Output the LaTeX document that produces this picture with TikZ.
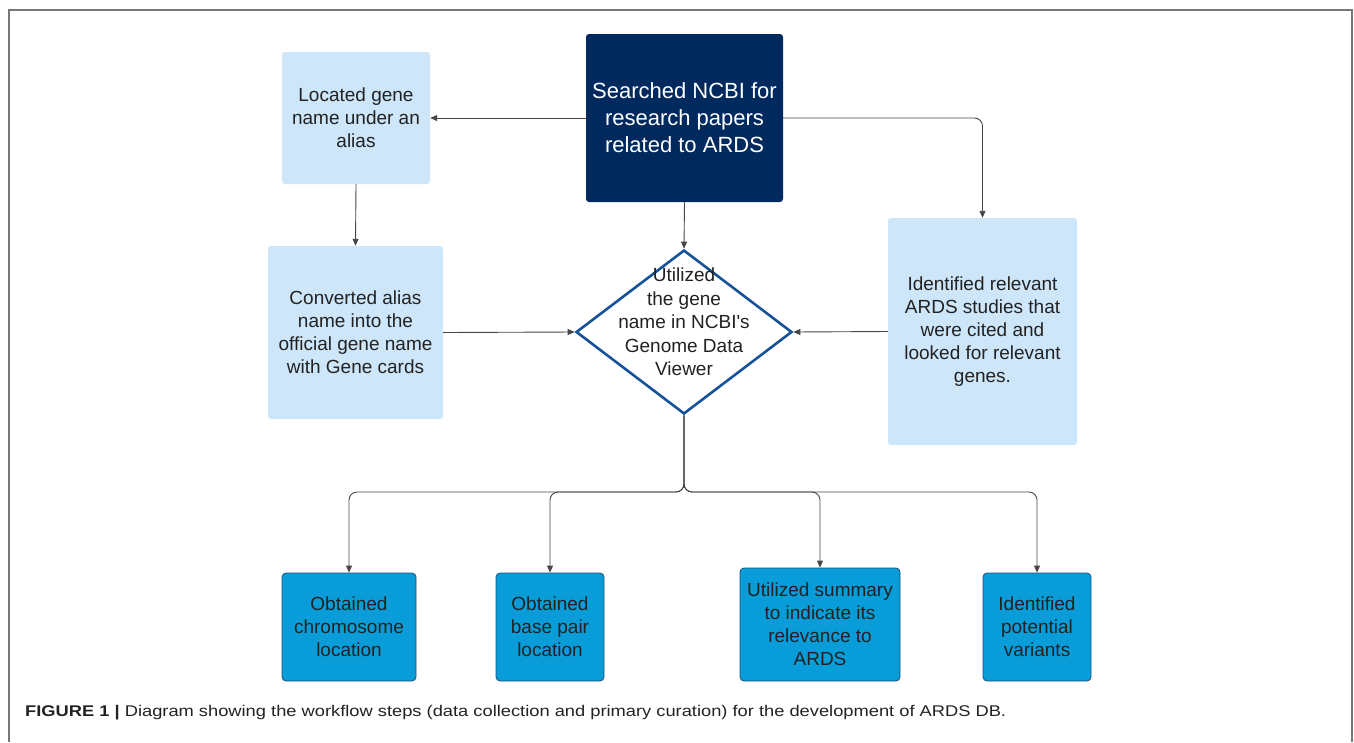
\documentclass[tikz,border=0pt]{standalone}
\usepackage{fontspec}
\setmainfont{Liberation Sans}
\usetikzlibrary{shapes.geometric,arrows.meta}
\definecolor{navy}{RGB}{0,42,94}
\definecolor{paleblue}{RGB}{205,230,250}
\definecolor{skyblue}{RGB}{8,156,216}
\definecolor{skyedge}{RGB}{30,80,120}
\definecolor{diaedge}{RGB}{22,82,150}
\definecolor{wire}{RGB}{70,70,70}
\definecolor{framegray}{RGB}{120,120,120}
\definecolor{ink}{RGB}{34,34,34}

\begin{document}
\begin{tikzpicture}[x=1pt,y=-1pt,>={Triangle[length=7pt,width=6pt]},
    flow/.style={->,draw=wire,line width=0.9pt,rounded corners=8pt},
    lightbox/.style={rectangle,rounded corners=3pt,fill=paleblue,inner sep=0pt,
        align=center,text=ink,font=\fontsize{19}{23}\selectfont},
    startbox/.style={rectangle,rounded corners=3pt,fill=navy,inner sep=0pt,
        align=center,text=white,font=\fontsize{22}{27}\selectfont},
    resultbox/.style={rectangle,rounded corners=4pt,fill=skyblue,draw=skyedge,line width=0.8pt,
        inner sep=0pt,align=center,text=ink,font=\fontsize{19}{23}\selectfont},
    decide/.style={diamond,draw=diaedge,line width=2.6pt,fill=white,inner sep=0pt}]
    \useasboundingbox (0,0) rectangle (1354,742);
    % frame
    \draw[framegray,line width=2pt] (8.5,742) -- (8.5,9.5) -- (1351.5,9.5) -- (1351.5,742);
    % top row
    \node[startbox,minimum width=197pt,minimum height=168pt] (search) at (684.5,118)
        {Searched NCBI for\\research papers\\related to ARDS};
    \node[lightbox,minimum width=148pt,minimum height=132pt] (located) at (356,118)
        {Located gene\\name under an\\alias};
    % middle row
    \node[lightbox,minimum width=175pt,minimum height=173pt] (convert) at (355.5,332.5)
        {Converted alias\\name into the\\official gene name\\with Gene cards};
    \node[decide,minimum width=216pt,minimum height=164pt] (view) at (684,332)
        [label={[align=center,text=ink,font=\fontsize{19}{23.5}\selectfont,yshift=10pt]center:Utilized\\the gene\\name in NCBI\textquotesingle s\\Genome Data\\Viewer}] {};
    \node[lightbox,minimum width=189pt,minimum height=227pt] (ident) at (982.5,331.5)
        {Identified relevant\\ARDS studies that\\were cited and\\looked for relevant\\genes.};
    % results
    \node[resultbox,minimum width=134pt,minimum height=108pt] (chrom) at (349,627)
        {Obtained\\chromosome\\location};
    \node[resultbox,minimum width=108pt,minimum height=108pt] (bpair) at (550,627)
        {Obtained\\base pair\\location};
    \node[resultbox,minimum width=160pt,minimum height=113pt] (summ) at (820,624.5)
        {Utilized summary\\to indicate its\\relevance to\\ARDS};
    \node[resultbox,minimum width=108pt,minimum height=108pt] (vari) at (1037,627)
        {Identified\\potential\\variants};
    % connectors
    \draw[flow] (search.west) -- (located.east);
    \draw[flow] (search.east) -| (ident.north);
    \draw[flow] (search.south) -- (view.north);
    \draw[flow] (located.south) -- (convert.north);
    \draw[flow] (convert.east) -- (view.west);
    \draw[flow] (ident.west) -- (view.east);
    \coordinate (split) at (684,492);
    \foreach \b in {chrom,bpair,summ,vari}
        \draw[flow] (view.south) -- (split) -| (\b.north);
    % caption
    \node[anchor=west,inner sep=0pt,text=ink,font=\fontsize{15.5}{18}\selectfont] (cap) at (25,713)
        {\scalebox{1.18}[1]{\textbf{FIGURE 1 |} Diagram showing the workflow steps (data collection and primary curation) for the development of ARDS DB.}};
\end{tikzpicture}
\end{document}
